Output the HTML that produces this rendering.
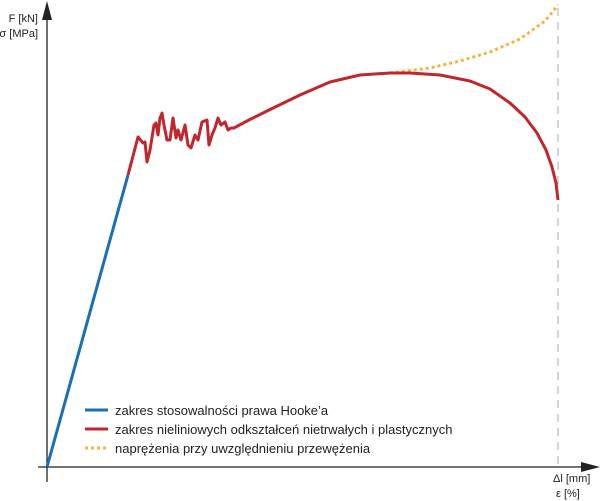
<!DOCTYPE html>
<html><head><meta charset="utf-8"><style>
html,body{margin:0;padding:0;background:#fff}
svg{display:block;font-family:"Liberation Sans",sans-serif}
</style></head><body>
<svg id="c" width="600" height="501">
<line x1="47" y1="482" x2="47" y2="12" stroke="#222" stroke-width="1.3"/>
<polygon points="47,1 42,20 52,20" fill="#222"/>
<line x1="38" y1="467" x2="588" y2="467" stroke="#222" stroke-width="1.3"/>
<polygon points="600,467 581,462 581,472" fill="#222"/>
<line x1="558" y1="8" x2="558" y2="467" stroke="#aaa" stroke-width="1" stroke-dasharray="8,6"/>
<text x="38" y="22" font-size="11" text-anchor="end" fill="#222">F [kN]</text>
<text x="38" y="37" font-size="11" text-anchor="end" fill="#222">σ [MPa]</text>
<text x="553" y="482" font-size="11" fill="#222">Δl [mm]</text>
<text x="556" y="497" font-size="11" fill="#222">ε [%]</text>
<g id="series"></g>
<g>
<line x1="85" y1="410" x2="108" y2="410" stroke="#1a6fb5" stroke-width="3"/>
<text x="115" y="415" font-size="13" fill="#222">zakres stosowalności prawa Hooke’a</text>
<line x1="85" y1="429" x2="108" y2="429" stroke="#c0272d" stroke-width="3"/>
<text x="115" y="434" font-size="13" fill="#222">zakres nieliniowych odkształceń nietrwałych i plastycznych</text>
<line x1="85" y1="448" x2="108" y2="448" stroke="#f5b342" stroke-width="3" stroke-dasharray="3,3"/>
<text x="115" y="453" font-size="13" fill="#222">naprężenia przy uwzględnieniu przewężenia</text>
</g>
</svg>
<script>
// data in chart units (x: elongation 0..511, y: force 0..467)
const hookeX=[0,81];
const hookeY=[0,292];
const plasticX=[81,91,96,98,100,103,107,109,111,113,115,117,120,123,126,129,131,134,138,141,144,148,151,155,160,162,165,168,171,174,178,181,184,187,200,220,253,283,313,343,363,393,423,443,463,478,490,499,505,509,511];
const plasticY=[292,330,324,325,305,317,342,344,332,349,354,342,327,327,349,329,337,327,342,322,319,332,327,345,347,322,332,339,349,342,345,337,339,339,346,356,372,385,392,394,394,392,386,378,364,350,334,317,300,284,267];
const neckX=[343,383,413,443,473,498,511];
const neckY=[394,399,406,415,428,446,462];
function sx(v){return 47+v;}
function sy(v){return 467-v;}
const g=document.getElementById('series');
function line(xs,ys,color,w,dash,name){
  const p=document.createElementNS('http://www.w3.org/2000/svg','polyline');
  p.setAttribute('points',xs.map((x,i)=>sx(x)+','+sy(ys[i])).join(' '));
  p.setAttribute('fill','none');p.setAttribute('stroke',color);p.setAttribute('stroke-width',w);
  p.setAttribute('stroke-linejoin','round');
  if(dash)p.setAttribute('stroke-dasharray',dash);
  
  
  g.appendChild(p);
}
line(neckX,neckY,'#f5b342',3,'3,3','necking-stress-line');
line(hookeX,hookeY,'#1a6fb5',3,null,'hooke-range-line');
line(plasticX,plasticY,'#c0272d',3,null,'plastic-range-line');
</script>
</body></html>
